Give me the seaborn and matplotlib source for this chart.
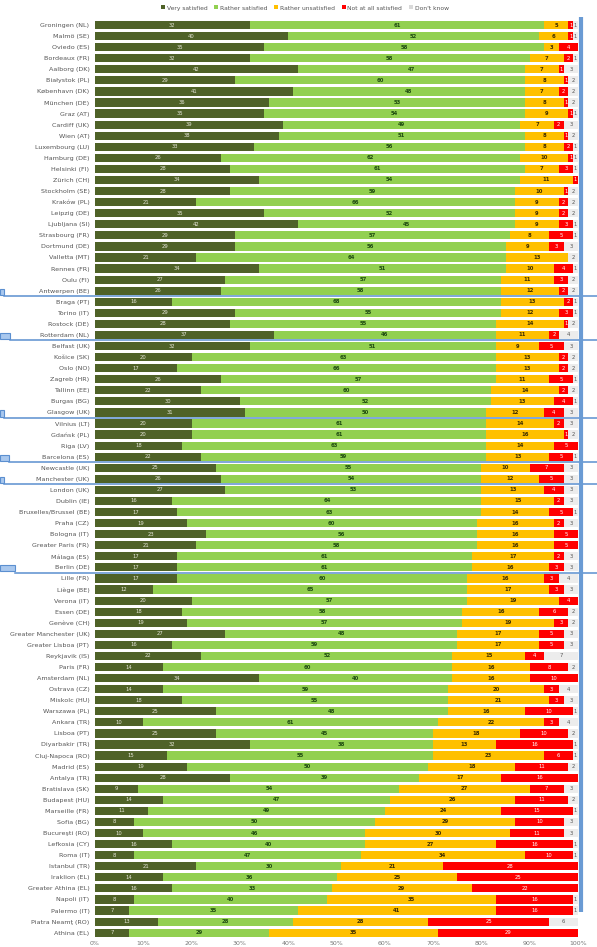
import numpy as np
import pandas as pd
import matplotlib
matplotlib.use("Agg")
import matplotlib.pyplot as plt
import seaborn as sns
from matplotlib.patches import Patch, Rectangle
from matplotlib.lines import Line2D
from matplotlib.transforms import blended_transform_factory

cities = [
    "Groningen (NL)", "Malmö (SE)", "Oviedo (ES)", "Bordeaux (FR)", "Aalborg (DK)",
    "Białystok (PL)", "København (DK)", "München (DE)", "Graz (AT)", "Cardiff (UK)",
    "Wien (AT)", "Luxembourg (LU)", "Hamburg (DE)", "Helsinki (FI)", "Zürich (CH)",
    "Stockholm (SE)", "Kraków (PL)", "Leipzig (DE)", "Ljubljana (SI)", "Strasbourg (FR)",
    "Dortmund (DE)", "Valletta (MT)", "Rennes (FR)", "Oulu (FI)", "Antwerpen (BE)",
    "Braga (PT)", "Torino (IT)", "Rostock (DE)", "Rotterdam (NL)", "Belfast (UK)",
    "Košice (SK)", "Oslo (NO)", "Zagreb (HR)", "Tallinn (EE)", "Burgas (BG)",
    "Glasgow (UK)", "Vilnius (LT)", "Gdańsk (PL)", "Riga (LV)", "Barcelona (ES)",
    "Newcastle (UK)", "Manchester (UK)", "London (UK)", "Dublin (IE)", "Bruxelles/Brussel (BE)",
    "Praha (CZ)", "Bologna (IT)", "Greater Paris (FR)", "Málaga (ES)", "Berlin (DE)",
    "Lille (FR)", "Liège (BE)", "Verona (IT)", "Essen (DE)", "Genève (CH)",
    "Greater Manchester (UK)", "Greater Lisboa (PT)", "Reykjavik (IS)", "Paris (FR)", "Amsterdam (NL)",
    "Ostrava (CZ)", "Miskolc (HU)", "Warszawa (PL)", "Ankara (TR)", "Lisboa (PT)",
    "Diyarbakir (TR)", "Cluj-Napoca (RO)", "Madrid (ES)", "Antalya (TR)", "Bratislava (SK)",
    "Budapest (HU)", "Marseille (FR)", "Sofia (BG)", "Bucureşti (RO)", "Lefkosia (CY)",
    "Roma (IT)", "Istanbul (TR)", "Iraklion (EL)", "Greater Athina (EL)", "Napoli (IT)",
    "Palermo (IT)", "Piatra Neamţ (RO)", "Athina (EL)",
]

very_satisfied = [
    32, 40, 35, 32, 42, 29, 41, 36, 35, 39, 38, 33, 26, 28, 34, 28, 21, 35, 42, 29,
    29, 21, 34, 27, 26, 16, 29, 28, 37, 32, 20, 17, 26, 22, 30, 31, 20, 20, 18, 22,
    25, 26, 27, 16, 17, 19, 23, 21, 17, 17, 17, 12, 20, 18, 19, 27, 16, 22, 14, 34,
    14, 18, 25, 10, 25, 32, 15, 19, 28, 9, 14, 11, 8, 10, 16, 8, 21, 14, 16, 8,
    7, 13, 7,
]
rather_satisfied = [
    61, 52, 58, 58, 47, 60, 48, 53, 54, 49, 51, 56, 62, 61, 54, 59, 66, 52, 45, 57,
    56, 64, 51, 57, 58, 68, 55, 55, 46, 51, 63, 66, 57, 60, 52, 50, 61, 61, 63, 59,
    55, 54, 53, 64, 63, 60, 56, 58, 61, 61, 60, 65, 57, 58, 57, 48, 59, 52, 60, 40,
    59, 55, 48, 61, 45, 38, 55, 50, 39, 54, 47, 49, 50, 46, 40, 47, 30, 36, 33, 40,
    35, 28, 29,
]
rather_unsatisfied = [
    5, 6, 3, 7, 7, 8, 7, 8, 9, 7, 8, 8, 10, 7, 11, 10, 9, 9, 9, 8,
    9, 13, 10, 11, 12, 13, 12, 14, 11, 9, 13, 13, 11, 14, 13, 12, 14, 16, 14, 13,
    10, 12, 13, 15, 14, 16, 16, 16, 17, 16, 16, 17, 19, 16, 19, 17, 17, 15, 16, 16,
    20, 21, 16, 22, 18, 13, 23, 18, 17, 27, 26, 24, 29, 30, 27, 34, 21, 25, 29, 35,
    41, 28, 35,
]
not_satisfied = [
    1, 1, 4, 2, 1, 1, 2, 1, 1, 2, 1, 2, 1, 3, 1, 1, 2, 2, 3, 5,
    3, 0, 4, 3, 2, 2, 3, 1, 2, 5, 2, 2, 5, 2, 4, 4, 2, 1, 5, 5,
    7, 5, 4, 2, 5, 2, 5, 5, 2, 3, 3, 3, 4, 6, 3, 5, 5, 4, 8, 10,
    3, 3, 10, 3, 10, 16, 6, 11, 16, 7, 11, 15, 10, 11, 16, 10, 28, 25, 22, 16,
    16, 25, 29,
]
dont_know = [
    1, 1, 0, 1, 3, 2, 2, 2, 1, 3, 2, 1, 1, 1, 0, 2, 2, 2, 1, 1,
    3, 2, 1, 2, 2, 1, 1, 2, 4, 3, 2, 2, 1, 2, 1, 3, 3, 2, 0, 1,
    3, 3, 3, 3, 1, 3, 0, 0, 3, 3, 4, 3, 0, 2, 2, 3, 3, 7, 2, 0,
    4, 3, 1, 4, 2, 1, 1, 2, 0, 3, 2, 1, 3, 3, 1, 1, 0, 0, 0, 1,
    1, 6, 0,
]

series_names = ["Very satisfied", "Rather satisfied", "Rather unsatisfied",
                "Not at all satisfied", "Don't know"]
series_colors = ["#4f6228", "#92d050", "#ffc000", "#ff0000", "#ececec"]
label_colors = ["#e6e6d8", "#1d4a10", "#3b2c00", "#ffffff", "#555555"]

# rows where a separator is drawn below the given row index
separators_after = [24, 28, 35, 39, 41, 49]

df = pd.DataFrame({
    "city": cities,
    "v1": very_satisfied,
    "v2": rather_satisfied,
    "v3": rather_unsatisfied,
    "v4": not_satisfied,
    "v5": dont_know,
})
vals = df[["v1", "v2", "v3", "v4", "v5"]].to_numpy(dtype=float)
cum = np.cumsum(vals, axis=1)
for k in range(5):
    df[f"c{k+1}"] = cum[:, k]

W, H = 597, 947
fig = plt.figure(figsize=(W / 100, H / 100), dpi=100)
fig.patch.set_facecolor("white")
ax = fig.add_axes([95 / W, 1 - 938.2 / H, 483 / W, (938.2 - 19.5) / H])
ax.set_facecolor("white")

# stacked bars: draw cumulative totals from the outermost layer inward
for k in range(4, -1, -1):
    sns.barplot(data=df, x=f"c{k+1}", y="city", orient="h", color=series_colors[k],
                width=0.74, ax=ax, saturation=1, linewidth=0)

ax.set_xlim(0, 100)
ax.set_ylim(len(cities) - 0.5, -0.5)
ax.set_xlabel("")
ax.set_ylabel("")
for s in ax.spines.values():
    s.set_visible(False)
ax.set_xticks(np.arange(0, 101, 10))
ax.set_xticklabels([f"{t}%" for t in range(0, 101, 10)], fontsize=4.5, color="#777777")
ax.tick_params(axis="both", length=0, pad=2)
ax.tick_params(axis="y", labelsize=4.6, labelcolor="#555555", pad=4)

# value labels inside the segments
for i in range(len(cities)):
    left = 0.0
    for k in range(5):
        v = vals[i, k]
        if v >= 1:
            ax.text(left + v / 2, i, f"{int(v)}", ha="center", va="center",
                    fontsize=3.8, color=label_colors[k],
                    fontweight="bold" if k in (1, 2) else "normal")
        left += v

# legend along the top
handles = [Patch(facecolor=c, edgecolor="none") for c in series_colors[:4]]
handles.append(Patch(facecolor="#d9d9d9", edgecolor="none"))
fig.legend(handles, series_names, loc="center", bbox_to_anchor=(305 / W, 1 - 8 / H),
           ncol=5, frameon=False, fontsize=4.3, handlelength=0.6, handleheight=0.6,
           handletextpad=0.3, columnspacing=1.2, labelcolor="#555555")

# blue marker lines across the chart
blue = "#5b8fd0"
tr = blended_transform_factory(fig.transFigure, ax.transData)
box_widths = [4, 10, 4, 9, 4, 15]
for yb, bw in zip(separators_after, box_widths):
    y = yb + 0.5
    fig.add_artist(Line2D([bw / W, 1.0], [y, y], transform=tr, color=blue, lw=1.1))
    fig.add_artist(Rectangle((0, y - 0.68), bw / W, 0.55, transform=tr,
                             facecolor="#a9c8ee", edgecolor=blue, lw=0.8))
trv = blended_transform_factory(fig.transFigure, ax.transData)
fig.add_artist(Line2D([580.5 / W, 580.5 / W], [-0.75, 80.1], transform=trv,
                      color="#6a9bd4", lw=3.0, solid_capstyle="butt"))

fig.savefig("out.png", dpi=100, facecolor="white")
